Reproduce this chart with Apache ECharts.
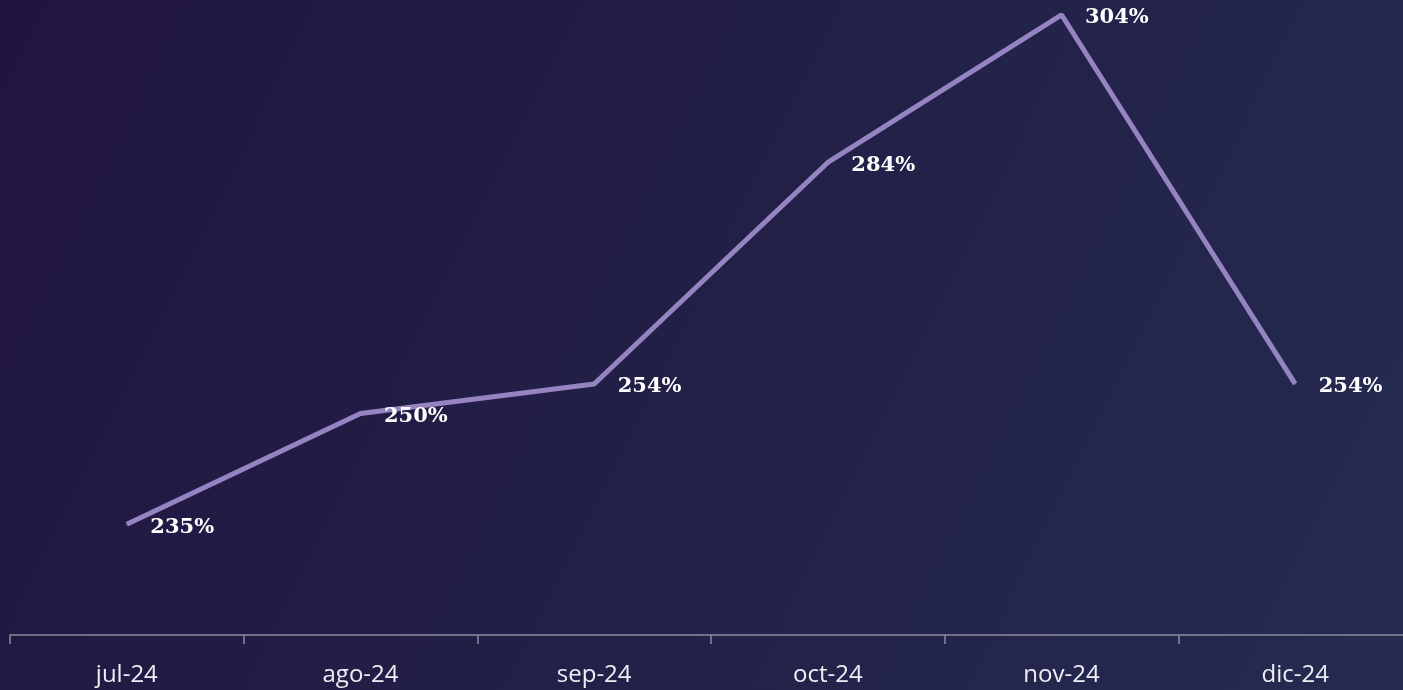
<!DOCTYPE html>
<html>
<head>
<meta charset="utf-8">
<script src="https://cdn.jsdelivr.net/npm/echarts@6/dist/echarts.min.js"></script>
<style>
html,body{margin:0;padding:0;width:1403px;height:690px;overflow:hidden;}
#c{width:1403px;height:690px;}
</style>
</head>
<body>
<div id="c"></div>
<script>
const categories = ['jul-24','ago-24','sep-24','oct-24','nov-24','dic-24'];
const values = [235, 250, 254, 284, 304, 254];

const chart = echarts.init(document.getElementById('c'));
chart.setOption({
  backgroundColor: {
    type: 'linear', x: 0, y: 0, x2: 1, y2: 1,
    colorStops: [
      {offset: 0, color: '#201540'},
      {offset: 1, color: '#252b50'}
    ]
  },
  animation: false,
  grid: {left: 10, right: -9, top: 0, bottom: 55, outerBoundsMode: 'none', containLabel: false},
  xAxis: {
    type: 'category',
    data: categories,
    boundaryGap: true,
    axisLine: {show: true, lineStyle: {color: '#8c8c9c', width: 1.5}},
    axisTick: {show: true, length: 9, lineStyle: {color: '#8c8c9c', width: 1.5}},
    axisLabel: {color: '#eeeef4', fontSize: 24, fontFamily: 'Open Sans', margin: 28}
  },
  yAxis: {
    type: 'value', min: 220, max: 306, show: false,
    splitLine: {show: false}
  },
  series: [{
    type: 'line',
    data: values,
    symbol: 'circle',
    symbolSize: 1,
    lineStyle: {color: '#9583c2', width: 5},
    itemStyle: {color: '#9583c2'},
    label: {
      show: true,
      position: 'right',
      distance: 23,
      offset: [0, 3],
      formatter: p => p.value + '%',
      color: '#ffffff',
      fontFamily: 'DejaVu Serif',
      fontWeight: 'bold',
      fontSize: 21
    }
  }]
});
</script>
</body>
</html>
